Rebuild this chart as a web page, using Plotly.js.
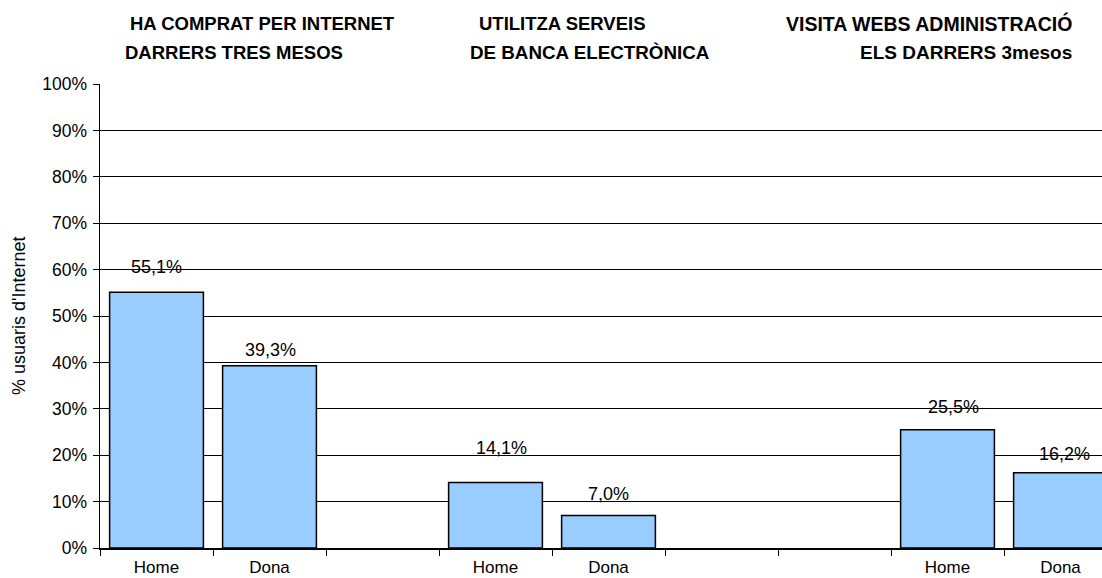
<!DOCTYPE html>
<html>
<head>
<meta charset="utf-8">
<script src="https://cdn.plot.ly/plotly-3.0.1.min.js"></script>
<style>
html,body{margin:0;padding:0;background:#fff;}
#chart{width:1102px;height:578px;}
</style>
</head>
<body>
<div id="chart"></div>
<script>
// ---- data ----
const categories = ["Home", "Dona", "", "Home", "Dona", "", "", "Home", "Dona"];
const values = [55.1, 39.3, null, 14.1, 7.0, null, null, 25.5, 16.2];
const groupTitles = [
  ["HA COMPRAT PER INTERNET", "DARRERS TRES MESOS"],
  ["UTILITZA SERVEIS", "DE BANCA ELECTRÒNICA"],
  ["VISITA WEBS ADMINISTRACIÓ", "ELS DARRERS 3mesos"]
];
const yTickVals = [0, 10, 20, 30, 40, 50, 60, 70, 80, 90, 100];
const yTitle = "% usuaris d'Internet";

// ---- layout helpers (positions / styles) ----
const FONT = "Liberation Sans, Arial, Helvetica, sans-serif";
const plotLeft = 100, plotWidth = 1002, plotTop = 84, plotHeight = 464;
const px2paper = p => (p - plotLeft) / plotWidth;
const py2paper = p => 1 - (p - plotTop) / plotHeight;
// label offsets above bars (pixels), per bar
const labelYShift = [25, 16, 0, 35, 22, 0, 0, 23, 19];
const labelXShift = [0, 1, 0, 6, 0, 0, 0, 6, 4];
// title line anchors
const titlePos = [
  [{x: 128, a: "left", s: 18.5}, {x: 123, a: "left", s: 18.5}],
  [{x: 477, a: "left", s: 18.5}, {x: 468, a: "left", s: 18.8}],
  [{x: 1074, a: "right", s: 19.5}, {x: 1074, a: "right", s: 19}]
];
const titleY = [23, 52];

const idx = categories.map((_, i) => i);
const fmt = v => v.toFixed(1).replace(".", ",") + "%";

const trace = {
  type: "bar",
  x: idx,
  y: values,
  width: 0.83,
  marker: {color: "#99CCFF", line: {color: "#000", width: 1.5}},
  hoverinfo: "none"
};

const annotations = [];
values.forEach((v, i) => {
  if (v === null) return;
  annotations.push({
    x: i, y: v, xref: "x", yref: "y",
    text: fmt(v), showarrow: false,
    xanchor: "center", yanchor: "middle",
    yshift: labelYShift[i], xshift: labelXShift[i],
    font: {family: FONT, size: 18, color: "#000"}
  });
});
groupTitles.forEach((lines, g) => {
  lines.forEach((t, l) => {
    annotations.push({
      x: px2paper(titlePos[g][l].x), xref: "paper",
      y: py2paper(titleY[l]), yref: "paper",
      yanchor: "middle", xanchor: titlePos[g][l].a,
      text: "<b>" + t + "</b>", showarrow: false,
      font: {family: FONT, size: titlePos[g][l].s, color: "#000"}
    });
  });
});
// y-axis title
annotations.push({
  x: px2paper(19), xref: "paper", y: 0.5, yref: "paper",
  xanchor: "center", yanchor: "middle", textangle: -90,
  text: yTitle, showarrow: false,
  font: {family: FONT, size: 18, color: "#000"}
});

const boundaries = [];
for (let i = 0; i <= categories.length; i++) boundaries.push(i - 0.5);

const layout = {
  width: 1102, height: 578,
  margin: {l: plotLeft, r: 0, t: plotTop, b: 578 - plotTop - plotHeight, pad: 0},
  paper_bgcolor: "#fff", plot_bgcolor: "#fff",
  showlegend: false,
  font: {family: FONT, size: 18, color: "#000"},
  xaxis: {
    type: "linear",
    range: [-0.5, -0.5 + plotWidth / 113],
    tickvals: boundaries,
    showticklabels: false,
    ticks: "outside", ticklen: 6, tickcolor: "#000", tickwidth: 1,
    showgrid: false, zeroline: false,
    showline: true, linecolor: "#000", linewidth: 1.5,
    fixedrange: true
  },
  xaxis2: {
    overlaying: "x", matches: "x", anchor: "y", side: "bottom",
    tickvals: idx, ticktext: categories,
    ticks: "", showgrid: false, zeroline: false, showline: false,
    ticklabelstandoff: 7,
    tickfont: {family: FONT, size: 17, color: "#000"},
    fixedrange: true
  },
  yaxis: {
    range: [0, 100],
    tickvals: yTickVals,
    ticktext: yTickVals.map(v => v + "%"),
    ticks: "outside", ticklen: 6, tickcolor: "#000",
    ticklabelstandoff: 2,
    showgrid: true, gridcolor: "#000", gridwidth: 1,
    zeroline: false,
    showline: true, linecolor: "#000", linewidth: 1.5,
    tickfont: {family: FONT, size: 17.5, color: "#000"},
    fixedrange: true
  },
  annotations: annotations
};

// invisible trace to activate xaxis2 labels
const ghost = {type: "scatter", x: idx, y: values.map(() => null), xaxis: "x2", yaxis: "y", hoverinfo: "none", showlegend: false};

Plotly.newPlot("chart", [trace, ghost], layout, {staticPlot: true, displayModeBar: false});
</script>
</body>
</html>
